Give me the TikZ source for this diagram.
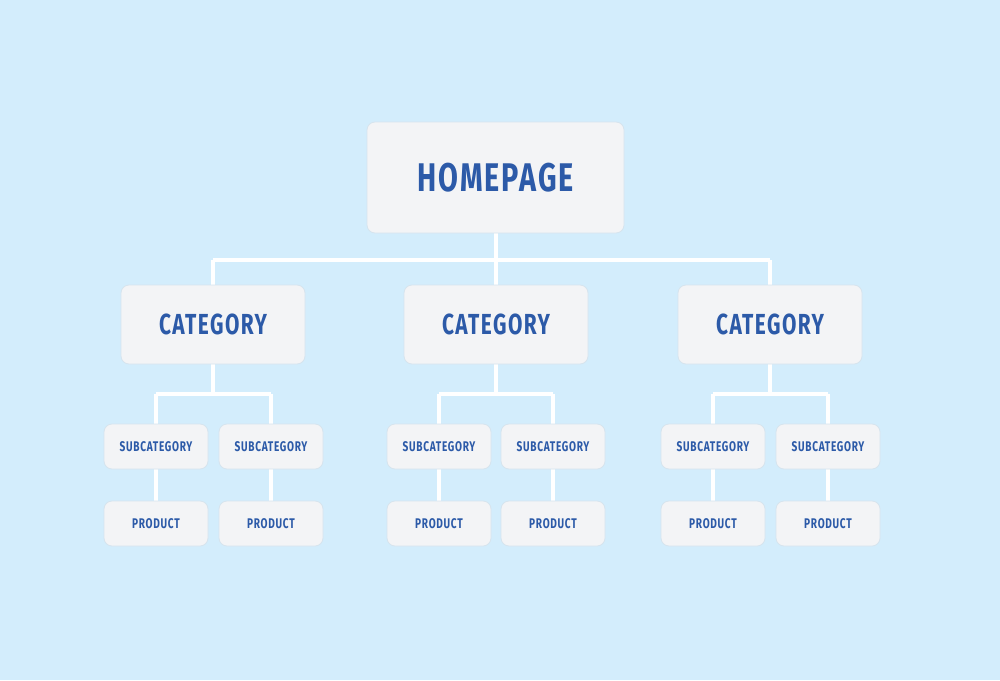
\documentclass[tikz,border=0pt]{standalone}
\usepackage{fontspec}
\newfontfamily\cond[FakeStretch=0.72,LetterSpace=5]{Fira Sans}
\definecolor{bgblue}{HTML}{D3EDFC}
\definecolor{boxfill}{HTML}{F3F4F6}
\definecolor{boxline}{HTML}{D6E4EE}
\definecolor{txtblue}{HTML}{2C5AA8}
\tikzset{
  box/.style={draw=boxline, line width=0.8pt, fill=boxfill, rounded corners=8pt, inner sep=0pt, text=txtblue, font=\cond\bfseries},
  homebox/.style={box, minimum width=257pt, minimum height=111pt, font=\cond\bfseries\fontsize{40}{40}\selectfont},
  catbox/.style={box, minimum width=184pt, minimum height=79pt, font=\cond\bfseries\fontsize{29}{29}\selectfont},
  subbox/.style={box, minimum width=104pt, minimum height=45pt, font=\cond\bfseries\fontsize{14}{14}\selectfont},
  link/.style={white, line width=4pt}
}
\begin{document}
\begin{tikzpicture}[x=1pt,y=-1pt]
\fill[bgblue] (0,0) rectangle (1000,680);
\useasboundingbox (0,0) rectangle (1000,680);
% connectors first
\coordinate (hj) at (495.5,260);
\coordinate (hl) at (213,260);
\coordinate (hr) at (770,260);
\draw[link] (495.5,233) -- (hj);
\draw[link] (hl) -- (hr);
\foreach \cx/\a/\b in {213/156/271, 496/439/553, 770/713/828}{
  \draw[link] (\cx,260) -- (\cx,285);
  \draw[link] (\cx,364) -- (\cx,394);
  \draw[link] (\a,394) -- (\b,394);
  \draw[link] (\a,394) -- (\a,424);
  \draw[link] (\b,394) -- (\b,424);
  \draw[link] (\a,469) -- (\a,501);
  \draw[link] (\b,469) -- (\b,501);
}
\node[homebox] (home) at (495.5,177.5) {HOMEPAGE};
\node[catbox] (c1) at (213,324.5) {CATEGORY};
\node[catbox] (c2) at (496,324.5) {CATEGORY};
\node[catbox] (c3) at (770,324.5) {CATEGORY};
\foreach \n/\x in {1/156,2/271,3/439,4/553,5/713,6/828}{
  \node[subbox] (s\n) at (\x,446.5) {SUBCATEGORY};
  \node[subbox] (p\n) at (\x,523.5) {PRODUCT};
}
\end{tikzpicture}
\end{document}
